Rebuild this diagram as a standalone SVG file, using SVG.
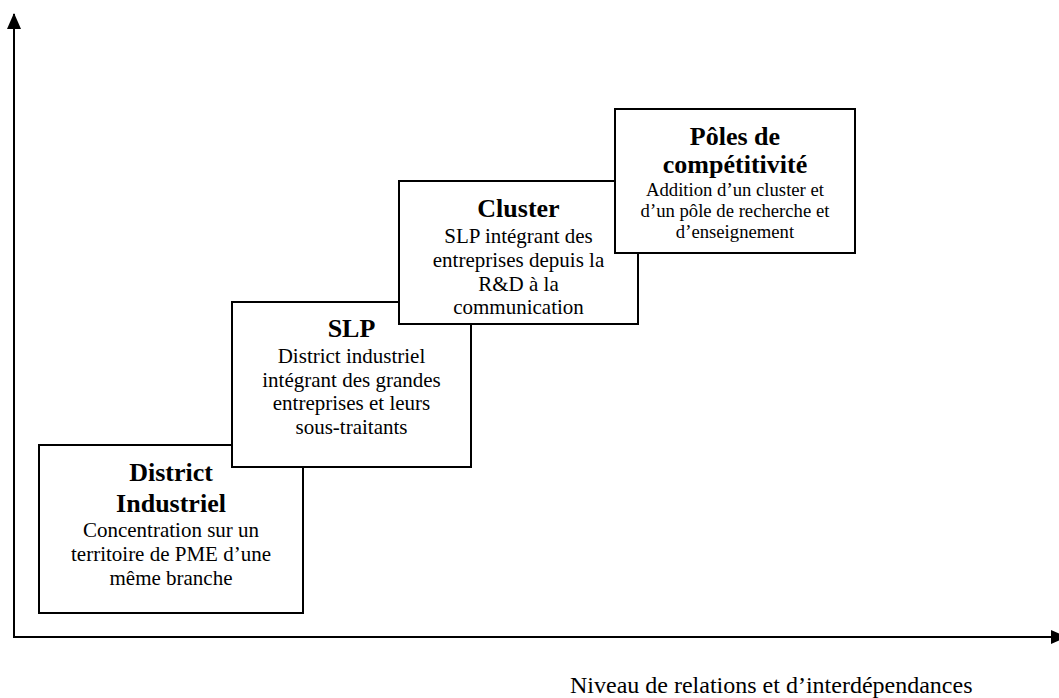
<svg xmlns="http://www.w3.org/2000/svg" width="1059" height="698" viewBox="0 0 1059 698">
<defs>
<style>
.box{fill:#fff;stroke:#000;stroke-width:2}
.t{font-family:"Liberation Serif","Times New Roman",serif;fill:#000;text-anchor:middle}
.h{font-size:26px;font-weight:bold}
.b{font-size:21px}
.s{font-size:18.7px}
.ax{stroke:#000;stroke-width:2;fill:none}
</style>
<marker id="arr" markerWidth="16" markerHeight="14" refX="15" refY="7" orient="auto" markerUnits="userSpaceOnUse">
<path d="M0,0 L16,7 L0,14 Z" fill="#000"/>
</marker>
</defs>
<rect width="1059" height="698" fill="#fff"/>
<g id="axes">
<line class="ax" x1="14" y1="637" x2="14" y2="14" marker-end="url(#arr)"/>
<line class="ax" x1="13" y1="637" x2="1066" y2="637" marker-end="url(#arr)"/>
</g>
<g id="district">
<rect class="box" x="39" y="445" width="264" height="168"/>
<text class="t h" x="171" y="481">District</text>
<text class="t h" x="171" y="512">Industriel</text>
<text class="t b" x="171" y="537">Concentration sur un</text>
<text class="t b" x="171" y="561">territoire de PME d’une</text>
<text class="t b" x="171" y="585">même branche</text>
</g>
<g id="slp">
<rect class="box" x="232" y="302" width="239" height="165"/>
<text class="t h" x="351.5" y="337">SLP</text>
<text class="t b" x="351.5" y="363">District industriel</text>
<text class="t b" x="351.5" y="386.5">intégrant des grandes</text>
<text class="t b" x="351.5" y="410">entreprises et leurs</text>
<text class="t b" x="351.5" y="433.5">sous-traitants</text>
</g>
<g id="cluster">
<rect class="box" x="399" y="181" width="239" height="143"/>
<text class="t h" x="518.5" y="217">Cluster</text>
<text class="t b" x="518.5" y="243">SLP intégrant des</text>
<text class="t b" x="518.5" y="267">entreprises depuis la</text>
<text class="t b" x="518.5" y="290.5">R&amp;D à la</text>
<text class="t b" x="518.5" y="314">communication</text>
</g>
<g id="poles">
<rect class="box" x="615" y="109" width="240" height="144"/>
<text class="t h" x="735" y="144.5">Pôles de</text>
<text class="t h" x="735" y="173">compétitivité</text>
<text class="t s" x="735" y="196">Addition d’un cluster et</text>
<text class="t s" x="735" y="217">d’un pôle de recherche et</text>
<text class="t s" x="735" y="238">d’enseignement</text>
</g>
<g id="xlabel">
<text class="t" x="570" y="693" style="font-size:24px;text-anchor:start">Niveau de relations et d’interdépendances</text>
</g>
</svg>
